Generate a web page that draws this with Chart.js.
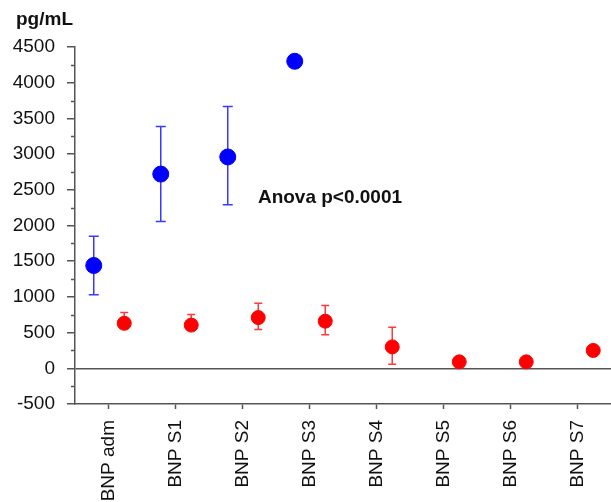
<!DOCTYPE html>
<html>
<head>
<meta charset="utf-8">
<script src="https://cdn.jsdelivr.net/npm/chart.js@4.4.1/dist/chart.umd.min.js"></script>
<style>
  html, body { margin: 0; padding: 0; background: #fff; }
  #wrap { width: 611px; height: 502px; position: relative; }
</style>
</head>
<body>
<div id="wrap"><canvas id="bnpChart"></canvas></div>
<script>
// Values (pg/mL)
const categories = ['BNP adm', 'BNP S1', 'BNP S2', 'BNP S3', 'BNP S4', 'BNP S5', 'BNP S6', 'BNP S7'];
const blueValues = [1440, 2720, 2960, 4300];
const blueErrUp = [410, 665, 705, 0];
const blueErrDown = [410, 665, 670, 0];
const redValues = [630, 605, 710, 660, 300, 90, 90, 250];
const redErrUp = [150, 150, 200, 220, 275, 0, 0, 0];
const redErrDown = [70, 70, 165, 190, 245, 0, 0, 0];
const yMin = -500;
const yMax = 4500;
const yStep = 500;

// side-by-side placement inside each category
const blueShift = -0.22;
const redShift = 0.235;

const FONT = "'Liberation Sans', Arial, sans-serif";
const AXIS_COLOR = '#555';

function toPoints(values, up, down, shift) {
    return values.map((v, i) => ({ x: i + shift, y: v, up: up[i], down: down[i] }));
}

// Error bars drawn under the markers
const errorBars = {
    id: 'errorBars',
    beforeDatasetsDraw(chart) {
        const { ctx, scales: { x, y } } = chart;
        chart.data.datasets.forEach(ds => {
            ctx.save();
            ctx.strokeStyle = ds.errorColor;
            ctx.lineWidth = 1.5;
            const cap = ds.capHalf;
            ds.data.forEach(p => {
                if (!p.up && !p.down) return;
                const px = x.getPixelForValue(p.x);
                const top = y.getPixelForValue(p.y + p.up);
                const bot = y.getPixelForValue(p.y - p.down);
                ctx.beginPath();
                ctx.moveTo(px, top);
                ctx.lineTo(px, bot);
                ctx.moveTo(px - cap, top);
                ctx.lineTo(px + cap, top);
                ctx.moveTo(px - cap, bot);
                ctx.lineTo(px + cap, bot);
                ctx.stroke();
            });
            ctx.restore();
        });
    }
};

// Minor ticks on the y axis + free text
const extras = {
    id: 'extras',
    afterDraw(chart) {
        const { ctx, scales: { x, y } } = chart;
        ctx.save();
        ctx.strokeStyle = AXIS_COLOR;
        ctx.lineWidth = 1.5;
        for (let v = yMin + yStep / 2; v < yMax; v += yStep) {
            const py = Math.round(y.getPixelForValue(v)) + 0.5;
            ctx.beginPath();
            ctx.moveTo(y.right - 4, py);
            ctx.lineTo(y.right, py);
            ctx.stroke();
        }
        ctx.fillStyle = '#111';
        ctx.font = 'bold 19px ' + FONT;
        ctx.textAlign = 'left';
        ctx.textBaseline = 'alphabetic';
        ctx.fillText('pg/mL', 16, 25);
        ctx.fillText('Anova p<0.0001', x.getPixelForValue(2.23), y.getPixelForValue(2320));
        ctx.restore();
    }
};

const chart = new Chart(document.getElementById('bnpChart'), {
    type: 'scatter',
    data: {
        datasets: [
            {
                data: toPoints(blueValues, blueErrUp, blueErrDown, blueShift),
                backgroundColor: '#0000ff',
                borderColor: '#0000ff',
                pointRadius: 8,
                errorColor: '#3a3aff',
                capHalf: 5,
                clip: false
            },
            {
                data: toPoints(redValues, redErrUp, redErrDown, redShift),
                backgroundColor: '#ff0000',
                borderColor: '#ff0000',
                pointRadius: 7,
                errorColor: '#ff3a3a',
                capHalf: 4,
                clip: false
            }
        ]
    },
    options: {
        responsive: true,
        maintainAspectRatio: false,
        animation: false,
        layout: { autoPadding: false, padding: { top: 47, left: 0, right: 0, bottom: 0 } },
        plugins: {
            legend: { display: false },
            tooltip: { enabled: false }
        },
        scales: {
            x: {
                type: 'linear',
                min: -0.5,
                max: 7.5,
                afterBuildTicks: s => { s.ticks = categories.map((_, i) => ({ value: i })); },
                afterFit: s => {
                    s.height = 98;
                    s.paddingLeft = 0;
                    s.paddingRight = 0;
                },
                border: { color: AXIS_COLOR, width: 1.5 },
                grid: { drawOnChartArea: false, tickLength: 5, tickColor: AXIS_COLOR, tickWidth: 1.5 },
                ticks: {
                    minRotation: 90,
                    maxRotation: 90,
                    padding: 11,
                    color: '#111',
                    font: { family: FONT, size: 19 },
                    callback: v => categories[v]
                }
            },
            y: {
                min: yMin,
                max: yMax,
                afterFit: s => { s.width = 75; },
                border: { color: AXIS_COLOR, width: 1.5 },
                grid: {
                    drawOnChartArea: true,
                    color: c => (c.tick && c.tick.value === 0 ? AXIS_COLOR : 'rgba(0,0,0,0)'),
                    lineWidth: 1.5,
                    tickLength: 8,
                    tickColor: AXIS_COLOR,
                    tickWidth: 1.5
                },
                ticks: {
                    stepSize: yStep,
                    padding: 12,
                    color: '#111',
                    font: { family: FONT, size: 19 },
                    callback: v => String(v)
                }
            }
        }
    },
    plugins: [errorBars, extras]
});
</script>
</body>
</html>
